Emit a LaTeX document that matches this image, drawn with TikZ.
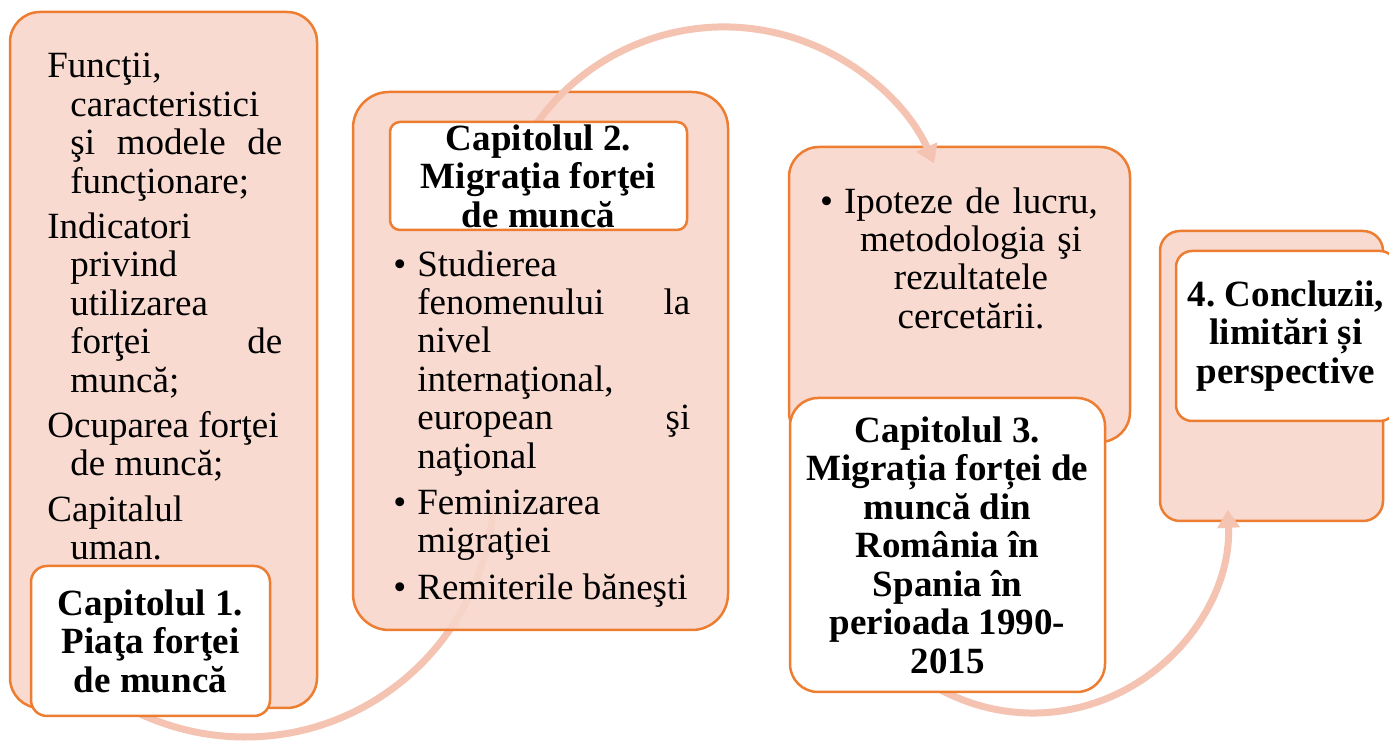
\documentclass[tikz,border=0pt]{standalone}
\usepackage{fontspec}
\setmainfont{Liberation Serif}
\usetikzlibrary{arrows.meta}
\frenchspacing

\definecolor{boxline}{HTML}{ED7D31}
\definecolor{boxfill}{HTML}{F8D6CB}
\definecolor{flowline}{HTML}{F4C3B2}

\newcommand{\hangpar}[1]{{\noindent\hangindent=11.5pt\hangafter=1\relax #1\par}}
\newcommand{\bulpar}[1]{{\noindent\hangindent=12pt\hangafter=1\relax\makebox[12pt][l]{\textbullet}#1\par}}

\begin{document}
\begin{tikzpicture}[x=0.5pt,y=0.5pt]
 \tikzstyle{panel}=[draw=boxline,line width=1.25pt,fill=boxfill,fill opacity=0.9,inner sep=0pt]
 \tikzstyle{tag}=[draw=boxline,line width=1.25pt,fill=white,inner sep=0pt,align=center,font=\fontsize{18.5pt}{19.25pt}\selectfont\bfseries]
 \tikzstyle{body}=[inner sep=0pt,font=\fontsize{18.5pt}{19.2pt}\selectfont]
 \tikzstyle{flow}=[draw=flowline,line width=3.5pt]
 \tikzstyle{flowhead}=[-{Triangle[width=11pt,length=9pt]}]

 \useasboundingbox (0,0) rectangle (1389,748);

 \node[panel,rounded corners=15pt,minimum width=153.5pt,minimum height=348pt] (b1) at (163.5,388) {};
 \coordinate (a1s) at ([shift={(215:249)}]245,260);
 \draw[flow] (a1s) arc[start angle=215,end angle=355,radius=249];
 \node[tag,rounded corners=8pt,minimum width=119.5pt,minimum height=75pt] (l1) at (150.5,107) {Capitolul 1.\\Piaţa forţei\\de muncă};
 \node[body,align=justify,text width=117.5pt,anchor=north west] (t1) at (47,695) {\parskip=3.5pt
  \hangpar{Funcţii,\newline caracteristici\newline şi modele de\linebreak funcţionare;}
  \hangpar{Indicatori\newline privind\newline utilizarea\newline forţei de\linebreak muncă;}
  \hangpar{Ocuparea forţei\newline de muncă;}
  \hangpar{Capitalul\newline uman.}};

 \node[panel,rounded corners=18pt,minimum width=187.5pt,minimum height=269pt] (b2) at (540.5,387) {};
 \node[panel,rounded corners=15pt,minimum width=170.5pt,minimum height=147.5pt] (b3) at (959.5,453.5) {};
 \coordinate (a2s) at ([shift={(160:230)}]724,491);
 \draw[flow,flowhead] (a2s) arc[start angle=160,end angle=24,radius=230];
 \node[tag,rounded corners=5pt,minimum width=148.5pt,minimum height=54pt] (l2) at (538.5,572) {Capitolul 2.\\Migraţia forţei\\de muncă};
 \node[body,align=justify,text width=148.5pt,anchor=north west] (t2) at (393,498) {\parskip=4pt
  \bulpar{Studierea\newline fenomenului la\linebreak nivel\newline internaţional,\newline european şi\linebreak naţional}
  \bulpar{Feminizarea\newline migraţiei}
  \bulpar{Remiterile băneşti}};
 \node[body,align=center,text width=150pt,anchor=north] (t3) at (971,561) {\llap{\makebox[12pt][l]{\textbullet}}Ipoteze de lucru,\\metodologia şi\\rezultatele\\cercetării.};

 \node[panel,rounded corners=10pt,minimum width=111.5pt,minimum height=145pt] (b4) at (1271.5,372) {};
 \coordinate (a3s) at ([shift={(200:195)}]1033,230);
 \draw[flow,flowhead] (a3s) arc[start angle=200,end angle=362.4,radius=195];
 \node[tag,rounded corners=14pt,minimum width=157.5pt,minimum height=147pt] (l3) at (947.5,203) {Capitolul 3.\\Migrația forței de\\muncă din\\România în\\Spania în\\perioada 1990-\\2015};
 \node[tag,rounded corners=8pt,minimum width=110pt,minimum height=85pt] (l4) at (1286,412) {4. Concluzii,\\limitări și\\perspective};
\end{tikzpicture}
\end{document}
